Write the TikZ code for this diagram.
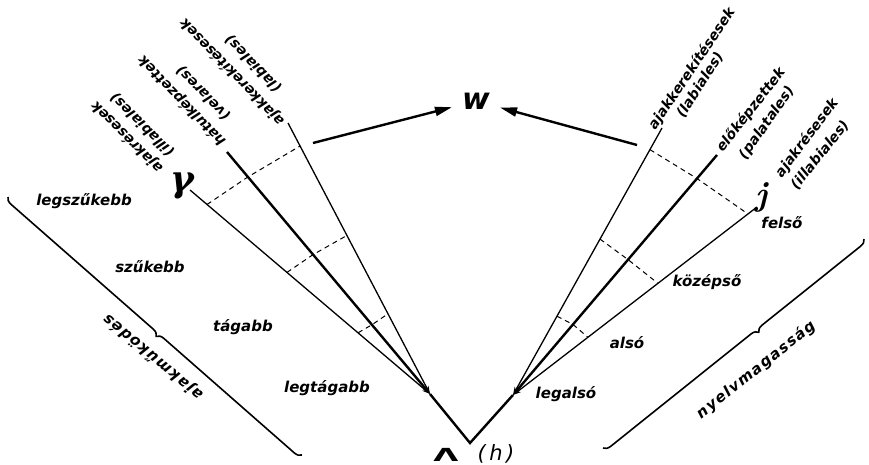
\documentclass[tikz,border=0pt]{standalone}
\usepackage{fontspec}
\usetikzlibrary{arrows.meta,decorations.pathreplacing,calc}
\newfontfamily\handfont{DejaVu Sans}
\newfontfamily\handwide[LetterSpace=9]{DejaVu Sans}
\newfontfamily\grkfont{DejaVu Serif}
\tikzset{
  handtxt/.style={font=\handfont\bfseries\itshape\fontsize{14}{16}\selectfont, inner sep=0pt},
  lvtxt/.style={font=\handfont\bfseries\itshape\fontsize{15}{17}\selectfont, inner sep=0pt},
  widetxt/.style={font=\handwide\bfseries\itshape\fontsize{15}{17}\selectfont, inner sep=0pt},
  thickline/.style={line width=2.4pt},
  thinline/.style={line width=1.3pt},
  dashline/.style={line width=1pt, dash pattern=on 5pt off 4pt},
  bracketline/.style={line width=1.6pt, decorate, decoration={brace, mirror, amplitude=7pt}},
  convtip/.style={-{Stealth[length=8pt,width=5pt]}},
  warrow/.style={line width=2.4pt, -{Triangle[length=17pt,width=9pt]}},
}
\begin{document}
\begin{tikzpicture}[x=1pt,y=-1pt]
\useasboundingbox (0,0) rectangle (869,465);
% level labels
\node[lvtxt] (lv1) at (84,201) {legszűkebb};
\node[lvtxt] (lv2) at (150,267) {szűkebb};
\node[lvtxt] (lv3) at (243,327) {tágabb};
\node[lvtxt] (lv4) at (327,388) {legtágabb};
\node[lvtxt] (rv1) at (782,223) {felső};
\node[lvtxt] (rv2) at (707,282) {középső};
\node[lvtxt] (rv3) at (627,343) {alsó};
\node[lvtxt] (rv4) at (566,394) {legalsó};
% key points
\coordinate (L0) at (430,394);
\coordinate (V) at (470,443);
\coordinate (R0) at (513,395);
\coordinate (Lt1) at (190,190);
\coordinate (Lt2) at (227,152);
\coordinate (Lt3) at (288,123);
\coordinate (Rt1) at (662,128);
\coordinate (Rt2) at (717,155);
\coordinate (Rt3) at (757,207);
% rays
\draw[thinline, convtip] (Lt1) -- (L0);
\draw[thickline, convtip] (Lt2) -- (L0);
\draw[thinline, convtip] (Lt3) -- (L0);
\draw[thinline, convtip] (Rt1) -- (R0);
\draw[thickline, convtip] (Rt2) -- (R0);
\draw[thinline, convtip] (Rt3) -- (R0);
\draw[thickline, line join=miter] (L0) -- (V) -- (R0);
% dashed cross lines
\coordinate (a1) at ($(Lt1)!0.071!(L0)$);
\coordinate (a2) at ($(Lt2)!0.103!(L0)$);
\coordinate (a3) at ($(Lt3)!0.085!(L0)$);
\coordinate (b1) at ($(Lt1)!0.404!(L0)$);
\coordinate (b2) at ($(Lt2)!0.424!(L0)$);
\coordinate (b3) at ($(Lt3)!0.415!(L0)$);
\coordinate (c1) at ($(Lt1)!0.700!(L0)$);
\coordinate (c2) at ($(Lt2)!0.714!(L0)$);
\coordinate (c3) at ($(Lt3)!0.704!(L0)$);
\coordinate (d1) at ($(Rt1)!0.081!(R0)$);
\coordinate (d2) at ($(Rt2)!0.098!(R0)$);
\coordinate (d3) at ($(Rt3)!0.037!(R0)$);
\coordinate (e1) at ($(Rt1)!0.416!(R0)$);
\coordinate (e2) at ($(Rt2)!0.436!(R0)$);
\coordinate (e3) at ($(Rt3)!0.406!(R0)$);
\coordinate (f1) at ($(Rt1)!0.705!(R0)$);
\coordinate (f2) at ($(Rt2)!0.706!(R0)$);
\coordinate (f3) at ($(Rt3)!0.693!(R0)$);
\draw[dashline] (a1) -- (a2) -- (a3);
\draw[dashline] (b1) -- (b2) -- (b3);
\draw[dashline] (c1) -- (c2) -- (c3);
\draw[dashline] (d1) -- (d2) -- (d3);
\draw[dashline] (e1) -- (e2) -- (e3);
\draw[dashline] (f1) -- (f2) -- (f3);
% ray labels, left (upside down)
\node[handtxt, rotate=135] (la1) at (127,137) {ajakrésesek};
\node[handtxt, rotate=135] (la1b) at (142,125) {(illabiales)};
\node[handtxt, rotate=134] (la2) at (182,101) {hátulképzettek};
\node[handtxt, rotate=134] (la2b) at (203,93) {(velares)};
\node[handtxt, rotate=134] (la3) at (232,72) {ajakkerekítésesek};
\node[handtxt, rotate=134] (la3b) at (253,64) {(labiales)};
% ray labels, right
\node[handtxt, rotate=56] (ra1) at (692,69) {ajakkerekítésesek};
\node[handtxt, rotate=57] (ra1b) at (700,85) {(labiales)};
\node[handtxt, rotate=52] (ra2) at (751,110) {előképzettek};
\node[handtxt, rotate=55] (ra2b) at (767,123) {(palatales)};
\node[handtxt, rotate=53] (ra3) at (807,138) {ajakrésesek};
\node[handtxt, rotate=51] (ra3b) at (820,155) {(illabiales)};
% big letters
\node[inner sep=0pt, font=\bfseries\itshape\fontsize{34}{34}\selectfont] (jj) at (762,197) {j};
\node[inner sep=10pt, font=\handfont\bfseries\itshape\fontsize{30}{30}\selectfont] (w) at (476,101) {w};
\node[inner sep=0pt, anchor=base, font=\handfont\itshape\fontsize{21}{21}\selectfont] (hh) at (496,460) {(\,h\,)};
\node[inner sep=0pt, font=\grkfont\bfseries\itshape\fontsize{36}{36}\selectfont] (gam) at (182,186) {γ};
\begin{scope}[shift={(446,455)}, xscale=1.8]
  \node[inner sep=0pt, transform shape, font=\handfont\bfseries\fontsize{18}{18}\selectfont] (lam) at (0,0) {Λ};
\end{scope}
% arrows to w
\coordinate (wl) at (313,143);
\coordinate (wr) at (637,145);
\draw[warrow] (wl) -- (w);
\draw[warrow] (wr) -- (w);
% brackets
\coordinate (bl1) at (8,197);
\coordinate (bl2) at (302,455);
\coordinate (br1) at (603,448);
\coordinate (br2) at (864,239);
\draw[bracketline, decoration={aspect=0.52}] (bl1) -- (bl2);
\draw[bracketline, decoration={aspect=0.58}] (br1) -- (br2);
\node[widetxt, rotate=140] (ajm) at (153,357) {ajakműködés};
\node[widetxt, rotate=38.5] (nym) at (756,370) {nyelvmagasság};
\end{tikzpicture}
\end{document}
